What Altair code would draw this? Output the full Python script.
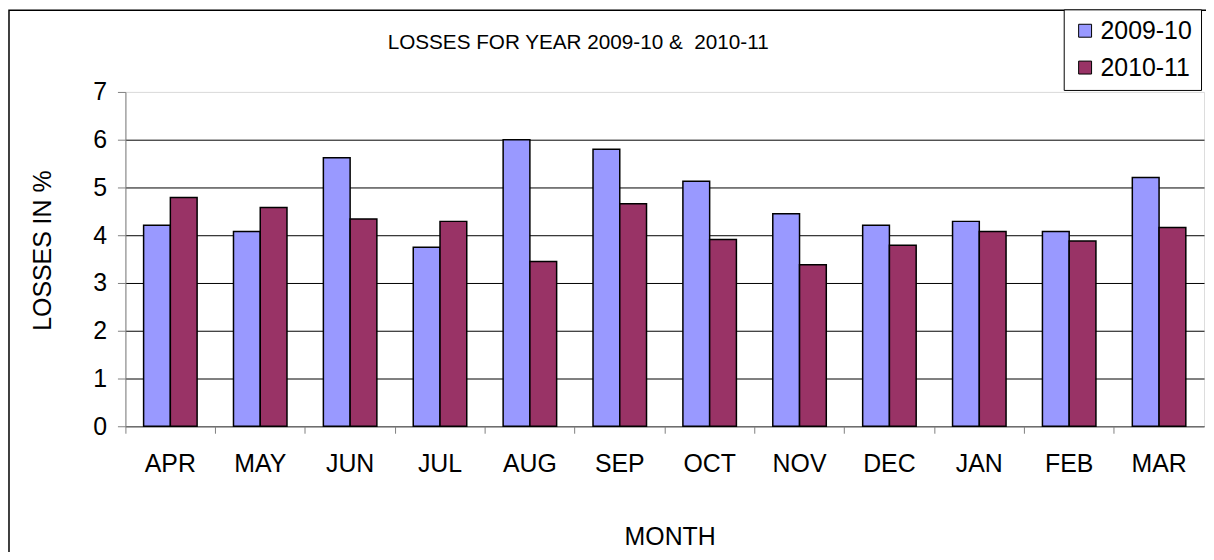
import altair as alt
import pandas as pd

months = ["APR", "MAY", "JUN", "JUL", "AUG", "SEP", "OCT", "NOV", "DEC", "JAN", "FEB", "MAR"]
series = ["2009-10", "2010-11"]
losses_2009_10 = [4.21, 4.08, 5.62, 3.75, 6.00, 5.80, 5.13, 4.45, 4.21, 4.29, 4.08, 5.21]
losses_2010_11 = [4.79, 4.58, 4.34, 4.29, 3.45, 4.66, 3.91, 3.38, 3.79, 4.08, 3.88, 4.16]
colors = ["#9999FF", "#993366"]
y_ticks = [0, 1, 2, 3, 4, 5, 6, 7]
chart_title = "LOSSES FOR YEAR 2009-10 &\u00a0 2010-11"

rows = []
for m, a, b in zip(months, losses_2009_10, losses_2010_11):
    rows.append({"month": m, "year": series[0], "loss": a})
    rows.append({"month": m, "year": series[1], "loss": b})
df = pd.DataFrame(rows)

FONT = "Liberation Sans"
W, H = 1084, 336

bars = alt.Chart(df).mark_bar(stroke="black", strokeWidth=1.5).encode(
    x=alt.X(
        "month:N",
        sort=months,
        scale=alt.Scale(paddingInner=0, paddingOuter=0),
        axis=alt.Axis(
            title="MONTH",
            titleFont=FONT,
            titleFontSize=25,
            titleFontWeight="normal",
            titleColor="black",
            titleX=547,
            titleY=119,
            titleBaseline="alphabetic",
            titleAlign="center",
            labelFont=FONT,
            labelFontSize=25,
            labelColor="black",
            labelAngle=0,
            labelPadding=18,
            labelBaseline="top",
            bandPosition=0,
            tickSize=7,
            tickColor="#808080",
            domainColor="#808080",
            grid=False,
        ),
    ),
    xOffset=alt.XOffset("year:N", sort=series, scale=alt.Scale(paddingInner=0, paddingOuter=0.68)),
    y=alt.Y(
        "loss:Q",
        scale=alt.Scale(domain=[0, 7], nice=False),
        axis=alt.Axis(
            title="LOSSES IN %",
            titleFont=FONT,
            titleFontSize=25,
            titleFontWeight="normal",
            titleColor="black",
            titleAngle=270,
            titleX=-83,
            titleY=159,
            titleAlign="center",
            titleBaseline="middle",
            values=y_ticks,
            labelFont=FONT,
            labelFontSize=25,
            labelColor="black",
            labelPadding=11,
            tickSize=8,
            tickColor="#808080",
            domainColor="#808080",
            grid=True,
            gridColor=alt.condition("datum.value == 7", alt.value("#dddddd"), alt.value("black")),
            gridWidth=1,
        ),
    ),
    color=alt.Color(
        "year:N",
        sort=series,
        scale=alt.Scale(domain=series, range=colors),
        legend=alt.Legend(
            title=None,
            orient="none",
            legendX=943,
            legendY=-83,
            padding=9,
            rowPadding=11,
            symbolType="square",
            symbolSize=169,
            symbolStrokeColor="black",
            symbolStrokeWidth=1,
            labelFont=FONT,
            labelFontSize=25,
            labelColor="black",
            labelOffset=3,
            strokeColor="black",
            fillColor="white",
        ),
    ),
)

deco = alt.Chart(pd.DataFrame({"b": [0]}))

border = deco.mark_rect(fillOpacity=0, stroke="black", strokeWidth=1.5).encode(
    x=alt.value(-117), x2=alt.value(1300), y=alt.value(-82), y2=alt.value(700)
)

title = deco.mark_text(
    font=FONT, fontSize=20.8, color="black", align="center", baseline="alphabetic"
).encode(x=alt.value(455), y=alt.value(-42.7), text=alt.value(chart_title))

chart = alt.layer(bars, border, title).properties(
    width=W,
    height=H,
    autosize=alt.AutoSizeParams(type="none"),
    padding={"left": 118, "top": 83, "right": 2, "bottom": 125},
).configure_view(stroke=None).configure(background="white")

chart.save("out.html", embed_options={"renderer": "svg", "actions": False})
